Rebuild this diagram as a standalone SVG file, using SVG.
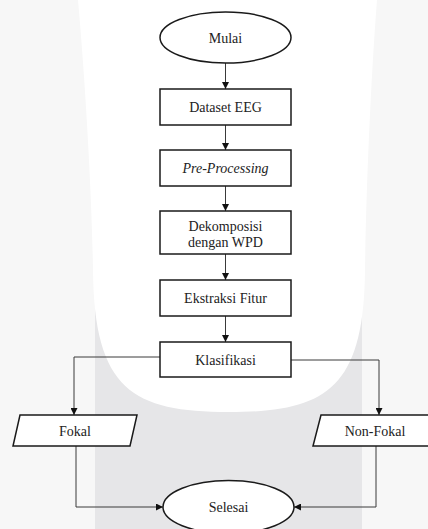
<svg xmlns="http://www.w3.org/2000/svg" width="428" height="529" viewBox="0 0 428 529">
<style>
.box{fill:#fff;stroke:#1a1a1a;stroke-width:1.5}
.t{font-family:'Liberation Serif','Times New Roman',Tinos,'DejaVu Serif',serif;font-size:14px;fill:#222;text-anchor:middle}
.c{fill:none;stroke:#3a3a3a;stroke-width:1}
</style>
<defs>
<marker id="ah" viewBox="0 0 10 10" refX="10" refY="5" markerWidth="7" markerHeight="7" markerUnits="userSpaceOnUse" orient="auto">
<path d="M0,0 L10,5 L0,10 Z" fill="#111"/>
</marker>
</defs>
<g id="background">
<rect x="0" y="0" width="428" height="529" fill="#f7f7f7"/>
<rect x="95" y="0" width="267" height="529" fill="#e6e6e8"/>
<path d="M78,0 L377,0 C370,90 366,200 365,270 C364,390 325,412 229,412 C133,412 94,390 93,270 C92,200 86,90 78,0 Z" fill="#ffffff"/>
</g>
<g id="connectors">
<line class="c" x1="225.5" y1="63" x2="225.5" y2="89" marker-end="url(#ah)"/>
<line class="c" x1="225.5" y1="125" x2="225.5" y2="150" marker-end="url(#ah)"/>
<line class="c" x1="225.5" y1="186" x2="225.5" y2="211" marker-end="url(#ah)"/>
<line class="c" x1="225.5" y1="254" x2="225.5" y2="280" marker-end="url(#ah)"/>
<line class="c" x1="225.5" y1="316" x2="225.5" y2="342" marker-end="url(#ah)"/>
<polyline class="c" points="160,357 74,357 74,415" marker-end="url(#ah)"/>
<polyline class="c" points="291,360 379,360 379,415" marker-end="url(#ah)"/>
<polyline class="c" points="76,446 76,507 163,507" marker-end="url(#ah)"/>
<polyline class="c" points="376,446 376,507 294,507" marker-end="url(#ah)"/>
</g>
<g id="mulai">
<ellipse class="box" cx="225.5" cy="37.5" rx="65.5" ry="25.5"/>
<text class="t" x="225.5" y="42.5">Mulai</text>
</g>
<g id="dataset">
<rect class="box" x="160" y="89" width="131" height="36"/>
<text class="t" x="225.5" y="112">Dataset EEG</text>
</g>
<g id="preprocessing">
<rect class="box" x="160" y="150" width="131" height="36"/>
<text class="t" x="225.5" y="173" font-style="italic">Pre-Processing</text>
</g>
<g id="dekomposisi">
<rect class="box" x="160" y="211" width="131" height="43"/>
<text class="t" x="225.5" y="231">Dekomposisi</text>
<text class="t" x="225.5" y="247">dengan WPD</text>
</g>
<g id="ekstraksi">
<rect class="box" x="160" y="280" width="131" height="36"/>
<text class="t" x="225.5" y="303">Ekstraksi Fitur</text>
</g>
<g id="klasifikasi">
<rect class="box" x="160" y="342" width="131" height="35"/>
<text class="t" x="225.5" y="364.5">Klasifikasi</text>
</g>
<g id="fokal">
<polygon class="box" points="20,415 137,415 130,446 13,446"/>
<text class="t" x="75" y="435.5">Fokal</text>
</g>
<g id="nonfokal">
<polygon class="box" points="321,415 438,415 431,446 313,446"/>
<text class="t" x="375" y="435.5">Non-Fokal</text>
</g>
<g id="selesai">
<ellipse class="box" cx="228.5" cy="507" rx="65.5" ry="26.5"/>
<text class="t" x="228.5" y="512">Selesai</text>
</g>
</svg>
